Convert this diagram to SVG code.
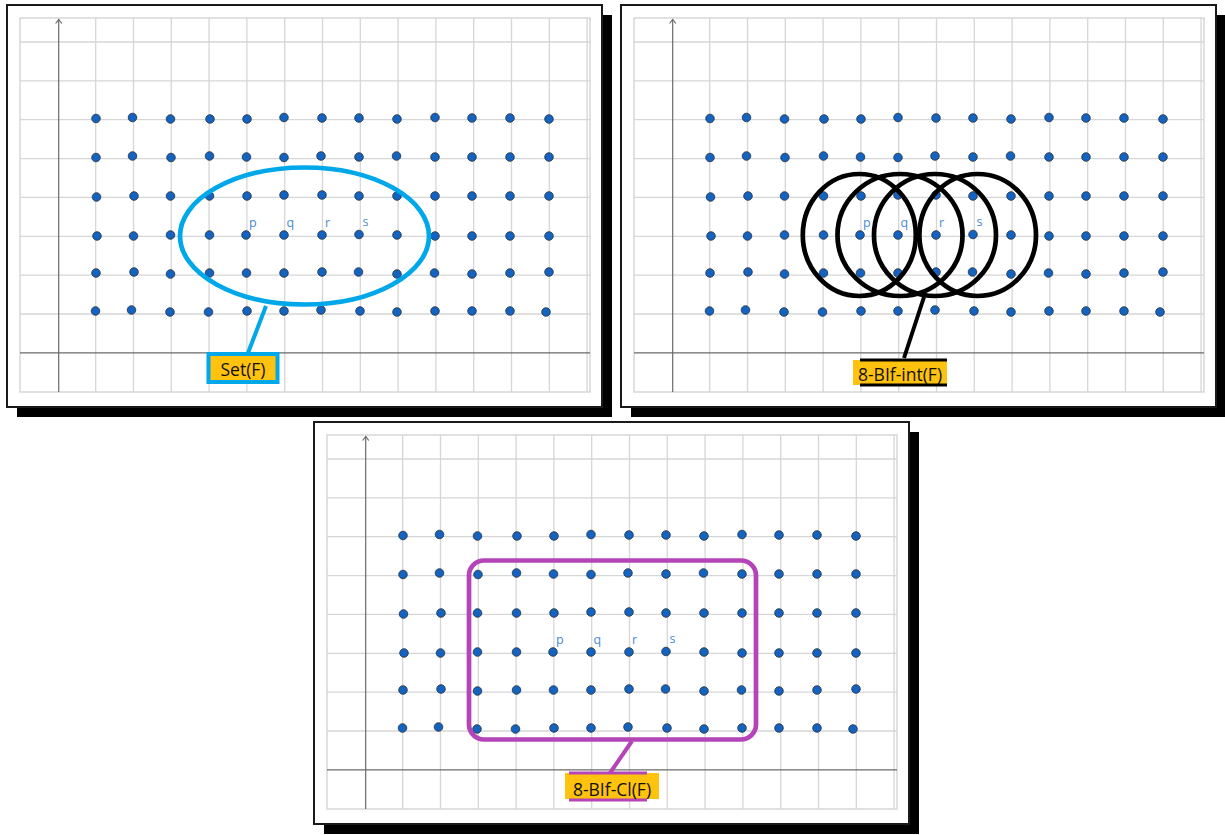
<svg xmlns="http://www.w3.org/2000/svg" xmlns:xlink="http://www.w3.org/1999/xlink" width="1225" height="835" viewBox="0 0 1225 835">
<style>
.shadow{fill:#000}
.frame{fill:#fff;stroke:#1a1a1a;stroke-width:2}
.garea{fill:#fff;stroke:#d2d2d2;stroke-width:1.3}
.gl{stroke:#d6d6d6;stroke-width:1.3}
.axis{stroke:#6a6a6a;stroke-width:1.2;fill:none}
.dot{fill:#1463c0;stroke:#23303a;stroke-width:0.8}
.pt{font-family:"Open Sans","Liberation Sans",sans-serif;font-size:12.5px;fill:#4a8ad8}
.lbl{font-family:"Open Sans","Noto Sans","Liberation Sans",sans-serif;font-size:17.5px;fill:#111;text-anchor:middle}
.gold{fill:#ffc20e}
.cyan{stroke:#00a8ea;fill:none}
.blk{stroke:#000;fill:none}
.pur{stroke:#b444b8;fill:none}
</style>
<defs>
<g id="panelBase">
<rect class="shadow" x="17" y="15" width="595" height="402"/>
<rect class="frame" x="7" y="5" width="595" height="402"/>
<rect class="garea" x="20" y="18" width="570" height="374"/>
<g class="gl">
<line x1="95.7" y1="18" x2="95.7" y2="392"/><line x1="133.5" y1="18" x2="133.5" y2="392"/>
<line x1="171.3" y1="18" x2="171.3" y2="392"/><line x1="209.1" y1="18" x2="209.1" y2="392"/>
<line x1="246.9" y1="18" x2="246.9" y2="392"/><line x1="284.7" y1="18" x2="284.7" y2="392"/>
<line x1="322.5" y1="18" x2="322.5" y2="392"/><line x1="360.3" y1="18" x2="360.3" y2="392"/>
<line x1="398.1" y1="18" x2="398.1" y2="392"/><line x1="435.9" y1="18" x2="435.9" y2="392"/>
<line x1="473.7" y1="18" x2="473.7" y2="392"/><line x1="511.5" y1="18" x2="511.5" y2="392"/>
<line x1="549.3" y1="18" x2="549.3" y2="392"/><line x1="587.1" y1="18" x2="587.1" y2="392"/>
<line x1="20" y1="42" x2="590" y2="42"/><line x1="20" y1="80.9" x2="590" y2="80.9"/>
<line x1="20" y1="119.7" x2="590" y2="119.7"/><line x1="20" y1="158.6" x2="590" y2="158.6"/>
<line x1="20" y1="197.4" x2="590" y2="197.4"/><line x1="20" y1="236.3" x2="590" y2="236.3"/>
<line x1="20" y1="275.1" x2="590" y2="275.1"/><line x1="20" y1="314" x2="590" y2="314"/>
</g>
<line class="axis" x1="58.7" y1="392" x2="58.7" y2="19.5"/>
<polyline class="axis" points="55.6,23.5 58.7,19.5 61.8,23.5"/>
<line class="axis" x1="20" y1="352.8" x2="590" y2="352.8"/>
<g class="dot">
<circle cx="96" cy="118.5" r="4.3"/><circle cx="132.5" cy="117.5" r="4.3"/><circle cx="170.5" cy="119" r="4.3"/><circle cx="210" cy="119" r="4.3"/><circle cx="247" cy="119" r="4.3"/><circle cx="284" cy="117.5" r="4.3"/><circle cx="322" cy="118" r="4.3"/><circle cx="359" cy="118" r="4.3"/><circle cx="397" cy="119" r="4.3"/><circle cx="435" cy="117.5" r="4.3"/><circle cx="472" cy="118" r="4.3"/><circle cx="510" cy="118" r="4.3"/><circle cx="549" cy="119" r="4.3"/>
<circle cx="96" cy="157.5" r="4.3"/><circle cx="132.5" cy="156" r="4.3"/><circle cx="171" cy="157.5" r="4.3"/><circle cx="209.5" cy="156" r="4.3"/><circle cx="246.5" cy="157" r="4.3"/><circle cx="284" cy="157.5" r="4.3"/><circle cx="321" cy="156" r="4.3"/><circle cx="359" cy="157" r="4.3"/><circle cx="396.5" cy="156" r="4.3"/><circle cx="435" cy="157" r="4.3"/><circle cx="472" cy="157" r="4.3"/><circle cx="510" cy="157" r="4.3"/><circle cx="549" cy="157" r="4.3"/>
<circle cx="96.5" cy="197" r="4.3"/><circle cx="134" cy="196" r="4.3"/><circle cx="170.5" cy="196" r="4.3"/><circle cx="209.5" cy="196" r="4.3"/><circle cx="247" cy="196" r="4.3"/><circle cx="284" cy="195" r="4.3"/><circle cx="322" cy="195" r="4.3"/><circle cx="359" cy="196" r="4.3"/><circle cx="397" cy="196" r="4.3"/><circle cx="435" cy="196" r="4.3"/><circle cx="472" cy="196" r="4.3"/><circle cx="510" cy="196" r="4.3"/><circle cx="549" cy="196" r="4.3"/>
<circle cx="97" cy="236" r="4.3"/><circle cx="133.5" cy="236" r="4.3"/><circle cx="170.5" cy="235" r="4.3"/><circle cx="209.5" cy="235" r="4.3"/><circle cx="246" cy="235" r="4.3"/><circle cx="284" cy="235" r="4.3"/><circle cx="322" cy="235" r="4.3"/><circle cx="359" cy="234.5" r="4.3"/><circle cx="397" cy="235" r="4.3"/><circle cx="435" cy="236" r="4.3"/><circle cx="472" cy="236" r="4.3"/><circle cx="510" cy="236" r="4.3"/><circle cx="549" cy="236" r="4.3"/>
<circle cx="96" cy="273" r="4.3"/><circle cx="134" cy="272" r="4.3"/><circle cx="170.5" cy="274" r="4.3"/><circle cx="209.5" cy="273" r="4.3"/><circle cx="246.5" cy="273" r="4.3"/><circle cx="284" cy="273" r="4.3"/><circle cx="322" cy="272" r="4.3"/><circle cx="358.5" cy="272" r="4.3"/><circle cx="397" cy="274" r="4.3"/><circle cx="434.5" cy="273" r="4.3"/><circle cx="472" cy="274" r="4.3"/><circle cx="510" cy="273" r="4.3"/><circle cx="549" cy="272" r="4.3"/>
<circle cx="95.5" cy="311" r="4.3"/><circle cx="131.5" cy="310" r="4.3"/><circle cx="170" cy="312" r="4.3"/><circle cx="208.5" cy="312" r="4.3"/><circle cx="247" cy="311" r="4.3"/><circle cx="284" cy="311" r="4.3"/><circle cx="321" cy="310" r="4.3"/><circle cx="360" cy="311" r="4.3"/><circle cx="397" cy="312" r="4.3"/><circle cx="435" cy="311" r="4.3"/><circle cx="472" cy="311" r="4.3"/><circle cx="510" cy="311" r="4.3"/><circle cx="546" cy="312" r="4.3"/>
</g>
<text class="pt" x="249" y="227">p</text>
<text class="pt" x="286.5" y="227">q</text>
<text class="pt" x="325" y="227">r</text>
<text class="pt" x="362.5" y="226">s</text>
</g>
</defs>

<g id="panel-set">
<use xlink:href="#panelBase" href="#panelBase"/>
</g>
<g id="panel-int">
<use xlink:href="#panelBase" href="#panelBase" transform="translate(614,0)"/>
</g>
<g id="panel-cl">
<use xlink:href="#panelBase" href="#panelBase" transform="translate(307,417)"/>
</g>

<g id="connectors">
<line class="cyan" x1="266" y1="306" x2="248" y2="353" stroke-width="4"/>
<line class="blk" x1="924" y1="297" x2="904" y2="358" stroke-width="4"/>
<line class="pur" x1="632" y1="741" x2="610" y2="773" stroke-width="4"/>
</g>

<g id="region-set">
<ellipse class="cyan" cx="304.5" cy="236" rx="124.5" ry="68.5" stroke-width="4.7"/>
</g>
<g id="region-int">
<ellipse class="blk" cx="859.3" cy="235" rx="56.5" ry="61" stroke-width="4.7"/>
<ellipse class="blk" cx="900" cy="235" rx="62.5" ry="61" stroke-width="4.7"/>
<ellipse class="blk" cx="935" cy="235" rx="61" ry="61" stroke-width="4.7"/>
<ellipse class="blk" cx="977.7" cy="235" rx="58.3" ry="61" stroke-width="4.7"/>
</g>
<g id="region-cl">
<rect class="pur" x="469" y="560.5" width="287" height="179" rx="15" stroke-width="4.7"/>
</g>

<g id="label-set">
<rect class="cyan" x="208.5" y="354" width="69" height="28" style="fill:#ffc20e" stroke-width="4"/>
<text class="lbl" x="243" y="376">Set(F)</text>
</g>
<g id="label-int">
<rect class="gold" x="853" y="360" width="94" height="25"/>
<line class="blk" x1="860" y1="360" x2="947" y2="360" stroke-width="3"/>
<line class="blk" x1="860" y1="385" x2="947" y2="385" stroke-width="3"/>
<text class="lbl" x="900" y="381">8-BIf-int(F)</text>
</g>
<g id="label-cl">
<rect class="gold" x="565" y="773" width="94" height="26"/>
<line class="pur" x1="569" y1="773" x2="647" y2="773" stroke-width="3"/>
<line class="pur" x1="569" y1="800" x2="647" y2="800" stroke-width="3"/>
<text class="lbl" x="612" y="796">8-BIf-Cl(F)</text>
</g>
</svg>
